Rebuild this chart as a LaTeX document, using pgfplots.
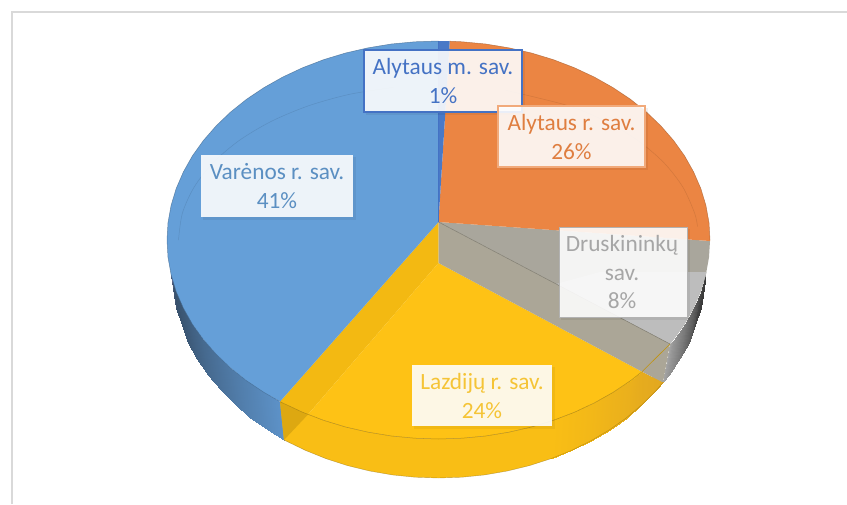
\documentclass[border=0pt]{standalone}
\usepackage{pgfplots}
\pgfplotsset{compat=1.18}
\usepackage{fontspec}
\setmainfont{Carlito}
\definecolor{cblue}{HTML}{659FD8}
\definecolor{cdblue}{HTML}{4472C4}
\definecolor{corange}{HTML}{EB8543}
\definecolor{cgrey}{HTML}{A9A69C}
\definecolor{cband}{HTML}{ABA697}
\definecolor{cyellow}{HTML}{FEC215}
\definecolor{cyband}{HTML}{F3B912}
\definecolor{cywall}{HTML}{F9BE15}
\pgfplotsset{
  colormap={wb}{rgb255=(56,81,108) rgb255=(93,146,200)},
  colormap={wg}{rgb255=(58,58,58) rgb255=(164,164,164)},
  colormap={wy}{rgb255=(226,168,32) rgb255=(249,190,21)},
}
\newcommand{\lab}[4]{%
 \node[text=#3,align=center,font=\fontsize{23.3}{28.5}\selectfont,inner sep=0pt] at (axis cs:#1,#2) {#4};}
\begin{document}
\begin{tikzpicture}
\begin{axis}[
  hide axis, scale only axis, width=847pt, height=504pt,
  xmin=0,xmax=847,ymin=0,ymax=504,y dir=reverse,clip=true,
  point meta min=0,point meta max=1,
]
% background
\addplot[fill=white,draw=none] coordinates {(0,0)(847,0)(847,504)(0,504)} \closedcycle;
% frame
\addplot[color=black!15,line width=2pt] coordinates {(12,504)(12,11.5)(847,11.5)};
% blue wall
\addplot[patch,patch type=rectangle,shader=interp,colormap name=wb,point meta=explicit] coordinates {
 (280,401.6)[1] (284,440)[1] (267.5,429.8)[.88] (264,392.4)[.88]
 (264,392.4)[.88] (267.5,429.8)[.88] (250.4,417.7)[.75] (246.5,380.7)[.75]
 (246.5,380.7)[.75] (250.4,417.7)[.75] (234.7,404.4)[.62] (230.5,367.9)[.62]
 (230.5,367.9)[.62] (234.7,404.4)[.62] (220.6,390.2)[.5] (216.1,354.1)[.5]
 (216.1,354.1)[.5] (220.6,390.2)[.5] (208.1,375)[.38] (203.4,339.5)[.38]
 (203.4,339.5)[.38] (208.1,375)[.38] (197.4,359.1)[.25] (192.4,324.1)[.25]
 (192.4,324.1)[.25] (197.4,359.1)[.25] (188.5,342.5)[.12] (183.4,308.1)[.12]
 (183.4,308.1)[.12] (188.5,342.5)[.12] (181.6,325.3)[.05] (176.2,291.5)[.05]
 (176.2,291.5)[.05] (181.6,325.3)[.05] (176.5,307.8)[0] (171.1,274.6)[0]
};
\addplot[fill=black!75!blue!60,draw=none] coordinates {(171.1,274.6)(176.5,307.8)(173.5,290)(172.5,272)} -- cycle;
% grey wall
\addplot[patch,patch type=rectangle,shader=interp,colormap name=wg,point meta=explicit] coordinates {
 (670,344)[1] (663,382.4)[1] (668.9,375)[.85] (673.6,339.5)[.85]
 (673.6,339.5)[.85] (668.9,375)[.85] (680,358)[.6] (684.6,324.1)[.6]
 (684.6,324.1)[.6] (680,358)[.6] (688.5,342.5)[.35] (693.6,308.1)[.35]
 (693.6,308.1)[.35] (688.5,342.5)[.35] (695.4,325.3)[.1] (700.8,291.5)[.1]
 (700.8,291.5)[.1] (695.4,325.3)[.1] (700.5,307.8)[0] (705.9,274.6)[0]
};
\addplot[fill=black!77,draw=none] coordinates {(705.9,274.6)(700.5,307.8)(703.5,290)(704.5,272)} -- cycle;
% yellow wall
\addplot[fill=cywall,draw=none] coordinates {(280,401.6)(282.8,403)(302.7,412.3)(323.8,420.4)(345.6,427)(368.2,432.2)(391.4,436)(414.8,438.2)(438.5,439)(462.2,438.2)(485.6,436)(508.8,432.2)(531.4,427)(553.2,420.4)(574.3,412.3)(594.2,403)(613,392.4)(630.5,380.7)(642,371.7)(663,382.4)(656.4,390.2)(642.3,404.4)(626.6,417.7)(609.5,429.8)(591.1,440.7)(571.5,450.4)(550.9,458.7)(529.5,465.6)(507.3,471)(484.7,474.9)(461.7,477.2)(438.5,478)(415.3,477.2)(392.3,474.9)(369.7,471)(347.5,465.6)(326.1,458.7)(305.5,450.4)(284,440)} -- cycle;
\addplot[patch,patch type=rectangle,shader=interp,colormap name=wy,point meta=explicit] coordinates {
 (553.2,420.4)[1] (550.9,458.7)[1] (571.5,450.4)[.85] (574.3,412.3)[.85]
 (574.3,412.3)[.85] (571.5,450.4)[.85] (591.1,440.7)[.7] (594.2,403)[.7]
 (594.2,403)[.7] (591.1,440.7)[.7] (609.5,429.8)[.5] (613,392.4)[.5]
 (613,392.4)[.5] (609.5,429.8)[.5] (626.6,417.7)[.35] (630.5,380.7)[.35]
 (630.5,380.7)[.35] (626.6,417.7)[.35] (642.3,404.4)[.15] (642,371.7)[.15]
 (642,371.7)[.15] (642.3,404.4)[.15] (656.4,390.2)[0] (663,382.4)[0]
};
\addplot[color=black!50!cyellow,line width=.4pt,opacity=.5] coordinates {(284,440)(305.5,450.4)(326.1,458.7)(347.5,465.6)(369.7,471)(392.3,474.9)(415.3,477.2)(438.5,478)(461.7,477.2)(484.7,474.9)(507.3,471)(529.5,465.6)(550.9,458.7)(571.5,450.4)(591.1,440.7)(609.5,429.8)(626.6,417.7)(642.3,404.4)(656.4,390.2)(663,382.4)};
\addplot[fill=black!12!cyband,fill opacity=.8,draw=none] coordinates {(280,401.6)(308,414.5)(284,440)} -- cycle;
% yellow side face and top
\addplot[fill=cyband,draw=none] coordinates {(438.5,222)(280,401.6)(282.8,403)(302.7,412.3)(308,414.5)(438.5,263)} -- cycle;
\addplot[fill=cyellow,draw=none] coordinates {(438.5,263)(642,371.7)(630.5,380.7)(613,392.4)(594.2,403)(574.3,412.3)(553.2,420.4)(531.4,427)(508.8,432.2)(485.6,436)(462.2,438.2)(438.5,439)(414.8,438.2)(391.4,436)(368.2,432.2)(345.6,427)(323.8,420.4)(308,414.5)} -- cycle;
\addplot[color=black!35!cyellow,line width=.5pt,opacity=.8] coordinates {(642,371.7)(630.5,380.7)(613,392.4)(594.2,403)(574.3,412.3)(553.2,420.4)(531.4,427)(508.8,432.2)(485.6,436)(462.2,438.2)(438.5,439)(414.8,438.2)(391.4,436)(368.2,432.2)(345.6,427)(323.8,420.4)(302.7,412.3)(282.8,403)(280,401.6)};
% grey side face and top
\addplot[fill=cgrey,draw=none] coordinates {(438.5,222)(710,241)(709,257.3)(705.9,274.6)(700.8,291.5)(693.6,308.1)(684.6,324.1)(673.6,339.5)(670,344)} -- cycle;
\addplot[fill=black!26,draw=none] coordinates {(556,284)(600,272)(706.5,272)(705.9,274.6)(700.8,291.5)(693.6,308.1)(684.6,324.1)(673.6,339.5)(670,344)} -- cycle;
\addplot[fill=cband,draw=none] coordinates {(438.5,222)(670,344)(663,382.4)(642,371.7)(438.5,263)} -- cycle;
\addplot[color=black!25!cband,line width=.5pt] coordinates {(438.5,222)(670,344)};
\addplot[color=cyband!80!black,line width=.6pt] coordinates {(642,371.7)(670,344)};
% orange top
\addplot[fill=corange,draw=none] coordinates {(438.5,222)(449.7,41.2)(462.2,41.8)(485.6,44)(508.8,47.8)(531.4,53)(553.2,59.6)(574.3,67.7)(594.2,77)(613,87.6)(630.5,99.3)(646.5,112.1)(660.9,125.9)(673.6,140.5)(684.6,155.9)(693.6,171.9)(700.8,188.5)(705.9,205.4)(709,222.7)(710,240)(710,241)} -- cycle;
% blue top
\addplot[fill=cblue,draw=none] coordinates {(438.5,222)(438.5,41)(414.8,41.8)(391.4,44)(368.2,47.8)(345.6,53)(323.8,59.6)(302.7,67.7)(282.8,77)(264,87.6)(246.5,99.3)(230.5,112.1)(216.1,125.9)(203.4,140.5)(192.4,155.9)(183.4,171.9)(176.2,188.5)(171.1,205.4)(168,222.7)(167,240)(168,257.3)(171.1,274.6)(176.2,291.5)(183.4,308.1)(192.4,324.1)(203.4,339.5)(216.1,354.1)(230.5,367.9)(246.5,380.7)(264,392.4)(280,401.6)} -- cycle;
% small slice
\addplot[fill=cdblue!85!cblue,draw=none] coordinates {(438.5,222)(438.5,41)(449.7,41.2)} -- cycle;
\addplot[color=cdblue,line width=.8pt] coordinates {(438.5,222)(438.5,41)};
% faint inner rim
\addplot[smooth,color=black!40!cblue,line width=.5pt,opacity=.25] coordinates {(178.5,240)(182.4,213.1)(194.2,187)(213.3,162.5)(239.3,140.4)(271.4,121.3)(308.5,105.8)(349.6,94.3)(393.4,87.4)};
\addplot[smooth,color=black!40!corange,line width=.5pt,opacity=.25] coordinates {(505.8,90.3)(568.5,105.8)(605.6,121.3)(637.7,140.4)(663.7,162.5)(682.8,187)(694.6,213.1)(697.5,226.5)};
% outer rim
\addplot[color=black!35!cblue,line width=.5pt,opacity=.7] coordinates {(438.5,41)(414.8,41.8)(391.4,44)(368.2,47.8)(345.6,53)(323.8,59.6)(302.7,67.7)(282.8,77)(264,87.6)(246.5,99.3)(230.5,112.1)(216.1,125.9)(203.4,140.5)(192.4,155.9)(183.4,171.9)(176.2,188.5)(171.1,205.4)(168,222.7)(167,240)(168,257.3)(171.1,274.6)(176.2,291.5)(183.4,308.1)(192.4,324.1)(203.4,339.5)(216.1,354.1)(230.5,367.9)(246.5,380.7)(264,392.4)(280,401.6)};
\addplot[color=black!30!corange,line width=.5pt,opacity=.7] coordinates {(449.7,41.2)(462.2,41.8)(485.6,44)(508.8,47.8)(531.4,53)(553.2,59.6)(574.3,67.7)(594.2,77)(613,87.6)(630.5,99.3)(646.5,112.1)(660.9,125.9)(673.6,140.5)(684.6,155.9)(693.6,171.9)(700.8,188.5)(705.9,205.4)(709,222.7)(710,240)};
% label boxes with shadows
\addplot[fill=black,fill opacity=.06,draw=none] coordinates {(203,157)(356,157)(356,220)(203,220)} -- cycle;
\addplot[fill=white,fill opacity=.89,draw=none] coordinates {(201,155)(353,155)(353,217)(201,217)} -- cycle;
\addplot[fill=black,fill opacity=.06,draw=none] coordinates {(366,52)(525,52)(525,115)(366,115)} -- cycle;
\addplot[fill=white,fill opacity=.89,draw=cdblue,line width=1.5pt] coordinates {(364,50)(522,50)(522,112)(364,112)} -- cycle;
\addplot[fill=black,fill opacity=.06,draw=none] coordinates {(500,108)(648,108)(648,170)(500,170)} -- cycle;
\addplot[fill=white,fill opacity=.89,draw=corange!70!white,line width=1.3pt] coordinates {(498,106)(645,106)(645,167)(498,167)} -- cycle;
\addplot[fill=black,fill opacity=.06,draw=none] coordinates {(561,229)(690,229)(690,320)(561,320)} -- cycle;
\addplot[fill=white,fill opacity=.89,draw=black!30,line width=1pt] coordinates {(559,227)(687,227)(687,317)(559,317)} -- cycle;
\addplot[fill=black,fill opacity=.05,draw=none] coordinates {(414,367)(555,367)(555,429)(414,429)} -- cycle;
\addplot[fill=white,fill opacity=.89,draw=none] coordinates {(412,365)(552,365)(552,426)(412,426)} -- cycle;
% label texts
\lab{277}{186}{cblue!90!black}{Varėnos r. sav.\\41\%}
\lab{443}{81}{cdblue}{Alytaus m. sav.\\1\%}
\lab{571.5}{137}{corange!95!black}{Alytaus r. sav.\\26\%}
\lab{622}{272.5}{black!35}{Druskininkų\\sav.\\8\%}
\lab{482}{396}{cyband!85!white}{Lazdijų r. sav.\\24\%}
\end{axis}
\end{tikzpicture}
\end{document}
